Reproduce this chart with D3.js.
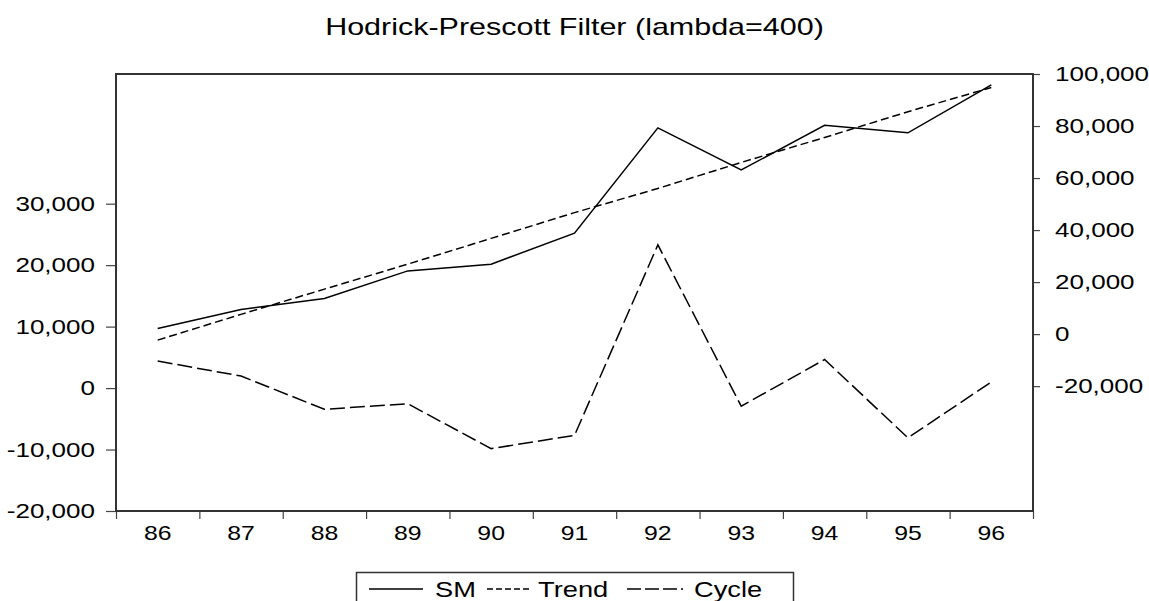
<!DOCTYPE html>
<html>
<head>
<meta charset="utf-8">
<script src="https://cdn.jsdelivr.net/npm/d3@7"></script>
<style>
  body { margin: 0; background: #fff; }
  svg { display: block; font-family: "Liberation Sans", Arial, sans-serif; }
</style>
</head>
<body>
<svg id="chart" width="1149" height="601"></svg>
<script>
// data
const years = ["86", "87", "88", "89", "90", "91", "92", "93", "94", "95", "96"];
const sm = [2200, 9500, 13700, 24300, 26900, 38800, 79300, 63100, 80300, 77400, 95800];
const trend = [-2300, 7600, 17300, 26900, 36800, 46700, 56000, 66000, 75600, 85500, 94800];
const cycle = [4400, 1950, -3450, -2550, -9850, -7700, 23300, -2950, 4650, -8100, 1000];
const leftTicks = [-20000, -10000, 0, 10000, 20000, 30000];
const rightTicks = [-20000, 0, 20000, 40000, 60000, 80000, 100000];

const svg = d3.select("#chart");
const box = {left: 116, right: 1033, top: 74, bottom: 511};
const sx = 1.24; // text in the reference is stretched sideways
// plain hyphen for negatives, like the original
const fmt = d3.formatLocale({decimal: ".", thousands: ",", grouping: [3], currency: ["", ""], minus: "-"}).format(",");

const x = d3.scaleBand().domain(years).range([box.left, box.right]);
const xEdge = d3.scaleLinear().domain([0, years.length]).range([box.left, box.right]);
const yL = d3.scaleLinear().domain([-20000, 51100]).range([box.bottom, box.top]);
const yR = d3.scaleLinear().domain([-68000, 100000]).range([box.bottom, box.top]);
const cx = d => x(d) + x.bandwidth() / 2;

// title
svg.append("text")
	.attr("transform", `translate(${(box.left + box.right) / 2},35) scale(1.27,1)`)
	.attr("text-anchor", "middle")
	.style("font-size", "24px")
	.text("Hodrick-Prescott Filter (lambda=400)");

const styleAxis = (g, size) => {
	g.select(".domain").remove();
	g.selectAll(".tick line").attr("stroke", "#444").attr("stroke-width", 1.2);
	g.selectAll(".tick text").attr("fill", "#000").style("font-size", size + "px").attr("font-family", null);
};

// left axis (cycle)
svg.append("g")
	.attr("transform", `translate(${box.left},0)`)
	.call(d3.axisLeft(yL).tickValues(leftTicks).tickFormat(fmt).tickSize(10))
	.call(styleAxis, 21)
	.call(g => g.selectAll(".tick text").attr("x", -21 / sx).attr("transform", `scale(${sx},1)`));

// right axis (SM, trend)
svg.append("g")
	.attr("transform", `translate(${box.right},0)`)
	.call(d3.axisRight(yR).tickValues(rightTicks).tickFormat(fmt).tickSize(7))
	.call(styleAxis, 21)
	.call(g => g.selectAll(".tick text").attr("x", 22 / sx).attr("transform", `scale(${sx},1)`));

// x axis: boundary ticks, labels centred in each year
svg.append("g")
	.attr("transform", `translate(0,${box.bottom})`)
	.call(d3.axisBottom(xEdge).tickValues(d3.range(years.length + 1)).tickFormat("").tickSize(8))
	.call(styleAxis, 20);

svg.append("g")
	.attr("transform", `translate(0,${box.bottom})`)
	.call(d3.axisBottom(x).tickSize(0))
	.call(styleAxis, 20)
	.call(g => g.selectAll(".tick text").attr("y", 0).attr("dy", 0)
		.attr("transform", `translate(0,29) scale(${sx},1)`));

// frame
svg.append("rect")
	.attr("x", box.left).attr("y", box.top)
	.attr("width", box.right - box.left).attr("height", box.bottom - box.top)
	.attr("fill", "none").attr("stroke", "#333").attr("stroke-width", 2);

// series
const series = [
	{name: "SM", values: sm, y: yR, dash: null},
	{name: "Trend", values: trend, y: yR, dash: "8,4"},
	{name: "Cycle", values: cycle, y: yL, dash: "15,5"}
];

series.forEach(s => {
	const line = d3.line()
		.x((d, i) => cx(years[i]))
		.y(d => s.y(d));
	svg.append("path")
		.datum(s.values)
		.attr("d", line)
		.attr("fill", "none")
		.attr("stroke", "#000")
		.attr("stroke-width", 1.5)
		.attr("stroke-dasharray", s.dash);
});

// legend
const lg = svg.append("g");
lg.append("rect")
	.attr("x", 356.5).attr("y", 572.5)
	.attr("width", 437).attr("height", 40)
	.attr("fill", "#fff").attr("stroke", "#333").attr("stroke-width", 1.5);

const legendItems = [
	{name: "SM", x0: 369, x1: 423, tx: 435, dash: null},
	{name: "Trend", x0: 487, x1: 531, tx: 538, dash: "6,3"},
	{name: "Cycle", x0: 627, x1: 683, tx: 694, dash: "14,4"}
];
legendItems.forEach(d => {
	lg.append("line")
		.attr("x1", d.x0).attr("x2", d.x1).attr("y1", 589).attr("y2", 589)
		.attr("stroke", "#000").attr("stroke-width", 1.5)
		.attr("stroke-dasharray", d.dash);
	lg.append("text")
		.attr("transform", `translate(${d.tx},597) scale(${sx},1)`)
		.style("font-size", "22px")
		.text(d.name);
});
</script>
</body>
</html>
